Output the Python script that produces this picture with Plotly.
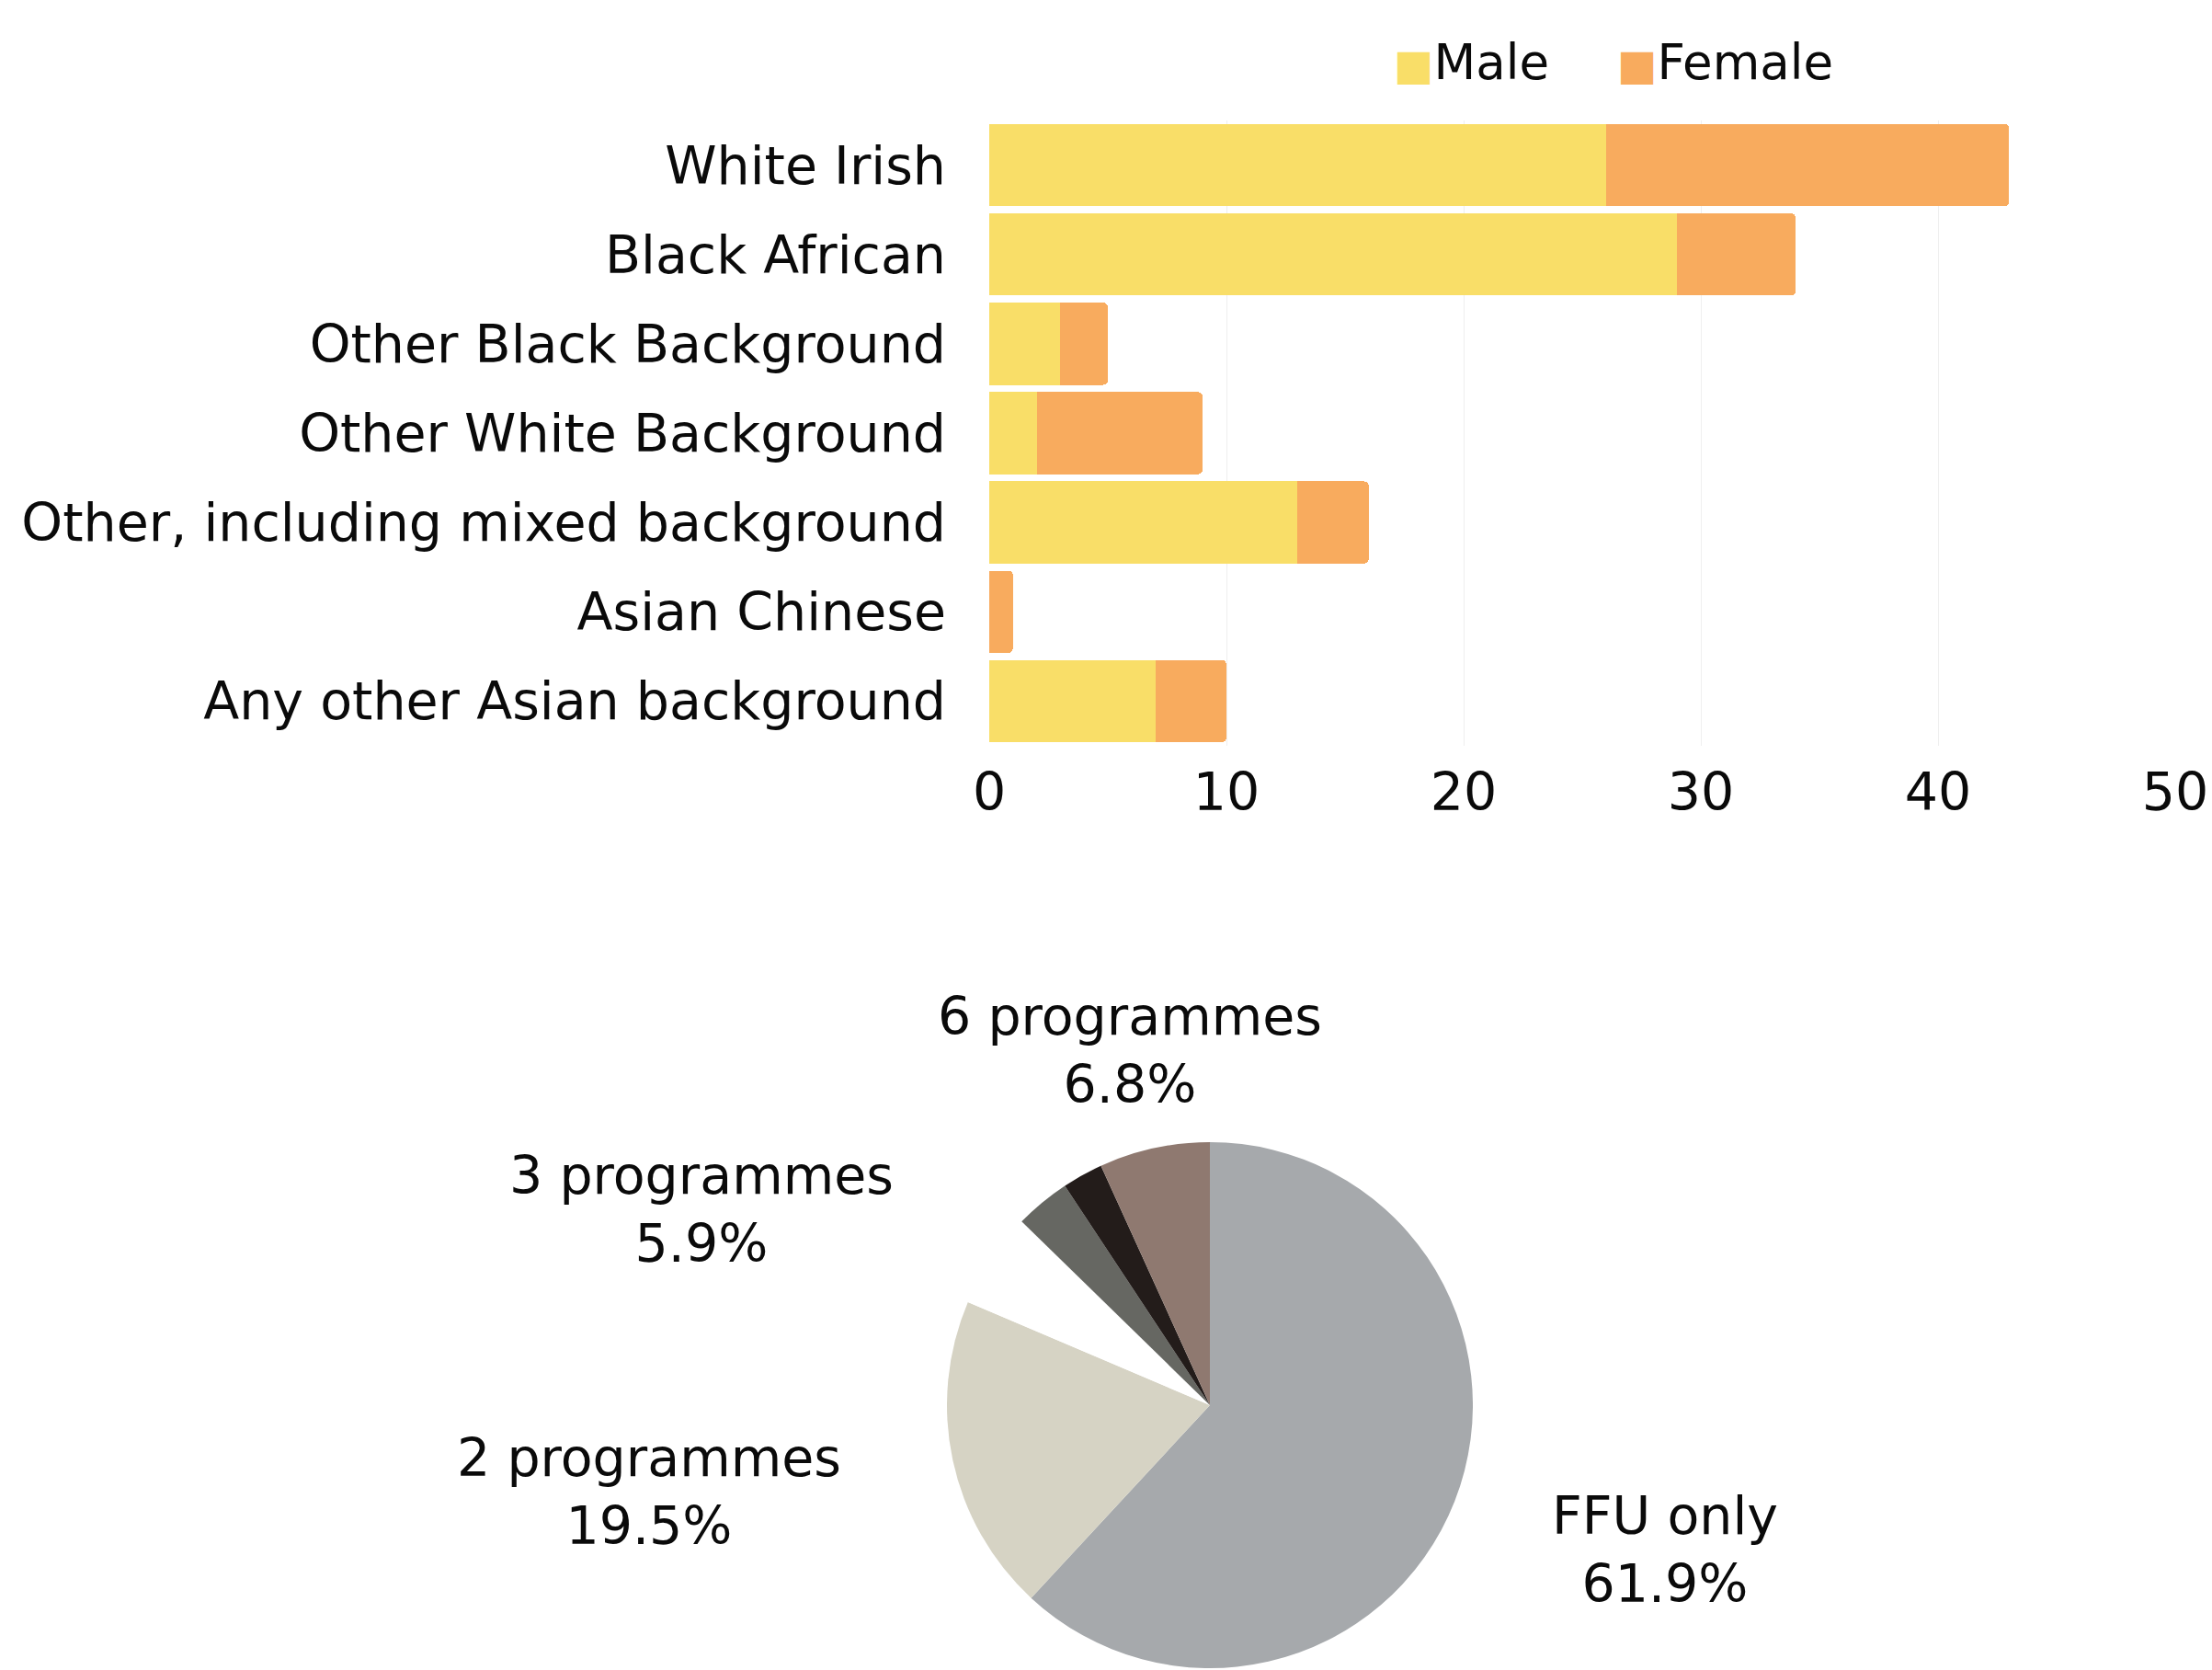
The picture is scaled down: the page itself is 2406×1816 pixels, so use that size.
import plotly.graph_objects as go

# ---- data: bar chart ----
categories = [
    "White Irish",
    "Black African",
    "Other Black Background",
    "Other White Background",
    "Other, including mixed background",
    "Asian Chinese",
    "Any other Asian background",
]
male = [26, 29, 3, 2, 13, 0, 7]
female = [17, 5, 2, 7, 3, 1, 3]
series_names = ["Male", "Female"]
x_ticks = [0, 10, 20, 30, 40, 50]

# ---- data: pie chart ----
pie_labels = ["FFU only", "2 programmes", "3 programmes", "4 programmes", "5 programmes", "6 programmes"]
pie_values = [61.9, 19.5, 5.9, 3.4, 2.5, 6.8]
labeled_slices = ["FFU only", "2 programmes", "3 programmes", "6 programmes"]

# ---- styles ----
FONT = "DejaVu Sans"
FS = 57
W, H = 2406, 1816
bar_colors = {"Male": "#F9DE68", "Female": "#F8AB5E"}
pie_colors = ["#A6A9AC", "#D6D3C4", "#FFFFFF", "#666762", "#231C1A", "#8F7970"]

def px_x(x):
    return x / W

def px_y(y):
    return 1 - y / H

fig = go.Figure()
for name, vals in zip(series_names, [male, female]):
    fig.add_trace(go.Bar(
        y=categories, x=vals, orientation="h", name=name,
        marker=dict(color=bar_colors[name], line=dict(width=0)),
        showlegend=False,
    ))

fig.add_trace(go.Pie(
    labels=pie_labels, values=pie_values, sort=False, direction="clockwise",
    rotation=0, textinfo="none", hoverinfo="label+percent",
    marker=dict(colors=pie_colors, line=dict(width=0)),
    domain=dict(x=[px_x(1030), px_x(1602)], y=[px_y(1816), px_y(1240)]),
    showlegend=False,
))

# pie label positions (centre of two-line label, px)
pie_label_pos = {
    "6 programmes": (1229, 1142),
    "3 programmes": (763, 1315),
    "2 programmes": (706, 1622),
    "FFU only": (1811, 1685),
}
annotations = []
for lab, val in zip(pie_labels, pie_values):
    if lab in labeled_slices:
        x, y = pie_label_pos[lab]
        annotations.append(dict(
            text=f"{lab}<br>{val}%", x=px_x(x), y=px_y(y), xref="paper", yref="paper",
            xanchor="center", yanchor="middle", showarrow=False, align="center",
            font=dict(family=FONT, size=FS, color="#0a0a0a"),
        ))

# legend built as annotations (large square swatches)
legend_pos = {"Male": 1514, "Female": 1757}
for name in series_names:
    annotations.append(dict(
        text=f"<span style='color:{bar_colors[name]};font-size:46px'>■</span>{name}",
        x=px_x(legend_pos[name]), y=px_y(68), xref="paper", yref="paper",
        xanchor="left", yanchor="middle", showarrow=False,
        font=dict(family=FONT, size=53, color="#0a0a0a"),
    ))

fig.update_layout(
    width=W, height=H,
    margin=dict(l=0, r=0, t=0, b=0),
    paper_bgcolor="white", plot_bgcolor="white",
    barmode="stack", bargap=0.08, barcornerradius=5,
    font=dict(family=FONT, size=FS, color="#0a0a0a"),
    xaxis=dict(
        domain=[px_x(1076), px_x(2366)], range=[0, 50], tickvals=x_ticks,
        showgrid=True, gridcolor="#efefef", gridwidth=1, zeroline=False, showline=False,
        ticks="", ticklabelstandoff=12, tickfont=dict(size=FS),
        anchor="y", fixedrange=True, automargin=False,
    ),
    yaxis=dict(
        domain=[px_y(811), px_y(131)], range=[6.5, -0.5], type="category",
        showgrid=False, zeroline=False, showline=False, ticks="",
        ticklabelstandoff=46, tickfont=dict(size=FS), fixedrange=True, automargin=False,
    ),
    annotations=annotations,
    hovermode="closest",
)

fig.write_html(
    "out.html",
    config={"displayModeBar": False},
    post_script="document.body.style.margin='0px';",
)
